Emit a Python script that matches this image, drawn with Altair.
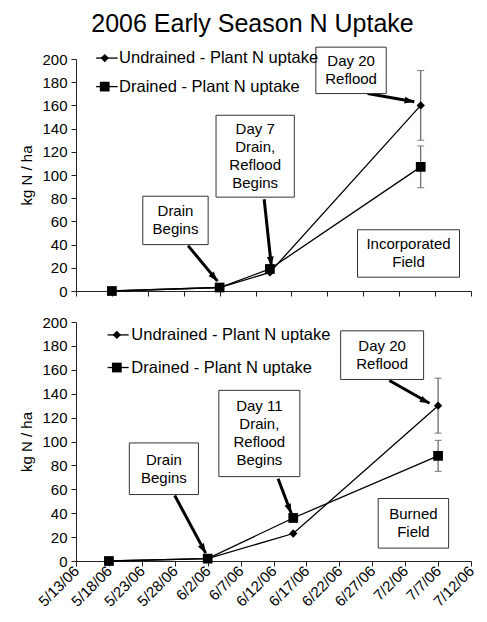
import json
import altair as alt
import pandas as pd

FONT = "Liberation Sans"
START = pd.Timestamp("2006-05-13")

TITLE = "2006 Early Season N Uptake"
Y_TITLE = "kg N / ha"
SERIES = ["Undrained - Plant N uptake", "Drained - Plant N uptake"]
SHAPES = ["diamond", "square"]
SIZES = [70, 95]

# ---- Incorporated field (top panel) ----
TOP_DATES = ["5/18/06", "6/2/06", "6/9/06", "6/30/06"]
TOP_UNDRAINED = [0, 3, 16, 160]
TOP_DRAINED = [0, 3, 19, 107]
TOP_UNDRAINED_ERR = [0, 0, 0, 30]
TOP_DRAINED_ERR = [0, 0, 0, 18]
TOP_TICKS = ["5/13/06", "5/18/06", "5/23/06", "5/28/06", "6/2/06", "6/7/06",
             "6/12/06", "6/17/06", "6/22/06", "6/27/06", "7/2/06", "7/7/06"]

# ---- Burned field (bottom panel) ----
BOT_DATES = ["5/18/06", "6/2/06", "6/15/06", "7/7/06"]
BOT_UNDRAINED = [0, 2, 23, 130]
BOT_DRAINED = [0, 2, 36, 88]
BOT_UNDRAINED_ERR = [0, 0, 0, 23]
BOT_DRAINED_ERR = [0, 0, 0, 13]
BOT_TICKS = ["5/13/06", "5/18/06", "5/23/06", "5/28/06", "6/2/06", "6/7/06",
             "6/12/06", "6/17/06", "6/22/06", "6/27/06", "7/2/06", "7/7/06", "7/12/06"]

# ---- annotation positions (days since 5/13/06, kg N/ha) ----
TOP_BOXES = [
    ("Drain\nBegins", 9.3, 18.4, 81.7, 40.0),
    ("Day 7\nDrain,\nReflood\nBegins", 19.5, 30.4, 151.5, 80.9),
    ("Day 20\nReflood", 33.4, 43.2, 210.2, 170.2),
    ("Incorporated\nField", 39.2, 53.4, 52.8, 11.9),
]
TOP_ARROWS = [  # x1, y1, x2 (tip), y2 (tip), angle
    (15.6, 39.1, 19.7, 8.5, 139),
    (26.2, 79.1, 27.2, 21.3, 174),
    (40.6, 170.2, 47.1, 163.1, 100),
]
TOP_LEGEND = [(200.8, 2.8, 5.8, 4.0, 6.0), (176.2, 2.8, 5.8, 4.0, 6.0)]

BOT_BOXES = [
    ("Drain\nBegins", 8.1, 18.6, 98.8, 55.6),
    ("Day 11\nDrain,\nReflood\nBegins", 21.7, 34.0, 142.8, 70.6),
    ("Day 20\nReflood", 40.2, 52.8, 192.6, 151.9),
    ("Burned\nField", 45.9, 56.6, 52.3, 10.8),
]
BOT_ARROWS = [
    (15.0, 54.8, 19.7, 6.6, 150),
    (30.7, 68.9, 32.7, 39.8, 158),
    (47.6, 151.1, 53.7, 132.0, 116),
]
BOT_LEGEND = [(189.2, 4.8, 8.0, 6.2, 8.4), (161.9, 4.8, 8.0, 6.2, 8.4)]

ARROW_HEAD = "M0,0L0.6,1.7L-0.6,1.7Z"
W = 395
LINE_H = 18


def to_day(s):
    return int((pd.to_datetime(s, format="%m/%d/%y") - START).days)


def panel(dates, und, dr, und_err, dr_err, ticks, show_labels, height, boxes, arrows, legend):
    days = [to_day(d) for d in dates]
    rows = []
    for s, vals, errs in [(SERIES[0], und, und_err), (SERIES[1], dr, dr_err)]:
        for d, v, e in zip(days, vals, errs):
            rows.append({"series": s, "day": d, "value": v, "lo": v - e, "hi": v + e, "err": e})
    df = pd.DataFrame(rows)

    tick_days = [to_day(t) for t in ticks]
    xscale = alt.Scale(domain=[0, tick_days[-1]], nice=False, zero=False)
    yscale = alt.Scale(domain=[0, 200], nice=False)
    axkw = dict(values=tick_days, title=None, grid=False, tickSize=5, labels=show_labels)
    if show_labels:
        axkw.update(labelExpr=f"{json.dumps(ticks)}[indexof({json.dumps(tick_days)}, datum.value)]",
                    labelAngle=-45, labelFontSize=15, labelPadding=2, labelOverlap=False,
                    labelAlign="right", labelBaseline="middle", labelFlush=False)
    xaxis = alt.Axis(**axkw)
    yaxis = alt.Axis(values=list(range(0, 201, 20)), title=Y_TITLE, grid=False, tickSize=5,
                     labelPadding=4, titlePadding=7)

    def X(f):
        return alt.X(f"{f}:Q", scale=xscale, axis=xaxis)

    def Y(f):
        return alt.Y(f"{f}:Q", scale=yscale, axis=yaxis)

    shape = alt.Shape("series:N", scale=alt.Scale(domain=SERIES, range=SHAPES), legend=None)
    size = alt.Size("series:N", scale=alt.Scale(domain=SERIES, range=SIZES), legend=None)

    base = alt.Chart(df)
    lines = base.mark_line(color="black", strokeWidth=1.3).encode(x=X("day"), y=Y("value"), detail="series:N")
    pts = base.mark_point(filled=True, color="black", opacity=1).encode(
        x=X("day"), y=Y("value"), shape=shape, size=size)
    eb = base.transform_filter("datum.err > 0")
    err_rule = eb.mark_rule(color="#444", strokeWidth=1).encode(x=X("day"), y=Y("lo"), y2="hi:Q")
    cap_lo = eb.mark_tick(color="#444", orient="horizontal", size=7, thickness=1).encode(x=X("day"), y=Y("lo"))
    cap_hi = eb.mark_tick(color="#444", orient="horizontal", size=7, thickness=1).encode(x=X("day"), y=Y("hi"))

    bdf = pd.DataFrame([{"text": t, "x1": a, "x2": b, "y1": c, "y2": d, "n": t.count("\n") + 1,
                         "cx": (a + b) / 2, "cy": (c + d) / 2} for t, a, b, c, d in boxes])
    rects = alt.Chart(bdf).mark_rect(fill="white", stroke="#333", strokeWidth=1).encode(
        x=X("x1"), x2="x2:Q", y=Y("y1"), y2="y2:Q")
    text_layers = []
    for n in sorted(bdf["n"].unique()):
        text_layers.append(
            alt.Chart(bdf).transform_filter(f"datum.n == {n}").mark_text(
                font=FONT, fontSize=15, lineBreak="\n", lineHeight=LINE_H, baseline="middle",
                align="center", color="black", dy=-(int(n) - 1) * LINE_H / 2).encode(
                x=X("cx"), y=Y("cy"), text="text:N"))

    adf = pd.DataFrame([{"x1": a, "y1": b, "x2": c, "y2": d, "angle": e} for a, b, c, d, e in arrows])
    shafts = alt.Chart(adf).mark_rule(color="black", strokeWidth=3).encode(
        x=X("x1"), y=Y("y1"), x2="x2:Q", y2="y2:Q")
    heads = alt.Chart(adf).mark_point(shape=ARROW_HEAD, filled=True, color="black", opacity=1,
                                      size=130).encode(
        x=X("x2"), y=Y("y2"), angle=alt.Angle("angle:Q", scale=None))

    ldf = pd.DataFrame([{"series": s, "y": y, "lx1": a, "lx2": b, "mx": m, "tx": t}
                        for s, (y, a, b, m, t) in zip(SERIES, legend)])
    lg = alt.Chart(ldf)
    l_line = lg.mark_rule(color="black", strokeWidth=1.3).encode(x=X("lx1"), x2="lx2:Q", y=Y("y"))
    l_pt = lg.mark_point(filled=True, color="black", opacity=1).encode(
        x=X("mx"), y=Y("y"), shape=shape, size=size)
    l_txt = lg.mark_text(font=FONT, fontSize=16.5, align="left", baseline="middle", color="black").encode(
        x=X("tx"), y=Y("y"), text="series:N")

    return alt.layer(lines, err_rule, cap_lo, cap_hi, pts, shafts, heads, rects, *text_layers,
                     l_line, l_pt, l_txt).properties(width=W, height=height)


top = panel(TOP_DATES, TOP_UNDRAINED, TOP_DRAINED, TOP_UNDRAINED_ERR, TOP_DRAINED_ERR,
            TOP_TICKS, False, 232, TOP_BOXES, TOP_ARROWS, TOP_LEGEND).properties(
    title=alt.TitleParams(TITLE, font=FONT, fontSize=25, fontWeight="normal", anchor="middle",
                          color="black", offset=10, dx=-21))
bottom = panel(BOT_DATES, BOT_UNDRAINED, BOT_DRAINED, BOT_UNDRAINED_ERR, BOT_DRAINED_ERR,
               BOT_TICKS, True, 239, BOT_BOXES, BOT_ARROWS, BOT_LEGEND)

chart = alt.vconcat(top, bottom, spacing=16).properties(
    padding={"left": 11, "top": 3, "right": 0, "bottom": 0},
).configure_view(stroke=None).configure_axis(
    labelFont=FONT, titleFont=FONT, labelFontSize=15, titleFontSize=15, titleFontWeight="normal",
    labelColor="black", titleColor="black", domainColor="#222", tickColor="#222",
)

chart.save("out.html", embed_options={"renderer": "svg", "actions": False})
